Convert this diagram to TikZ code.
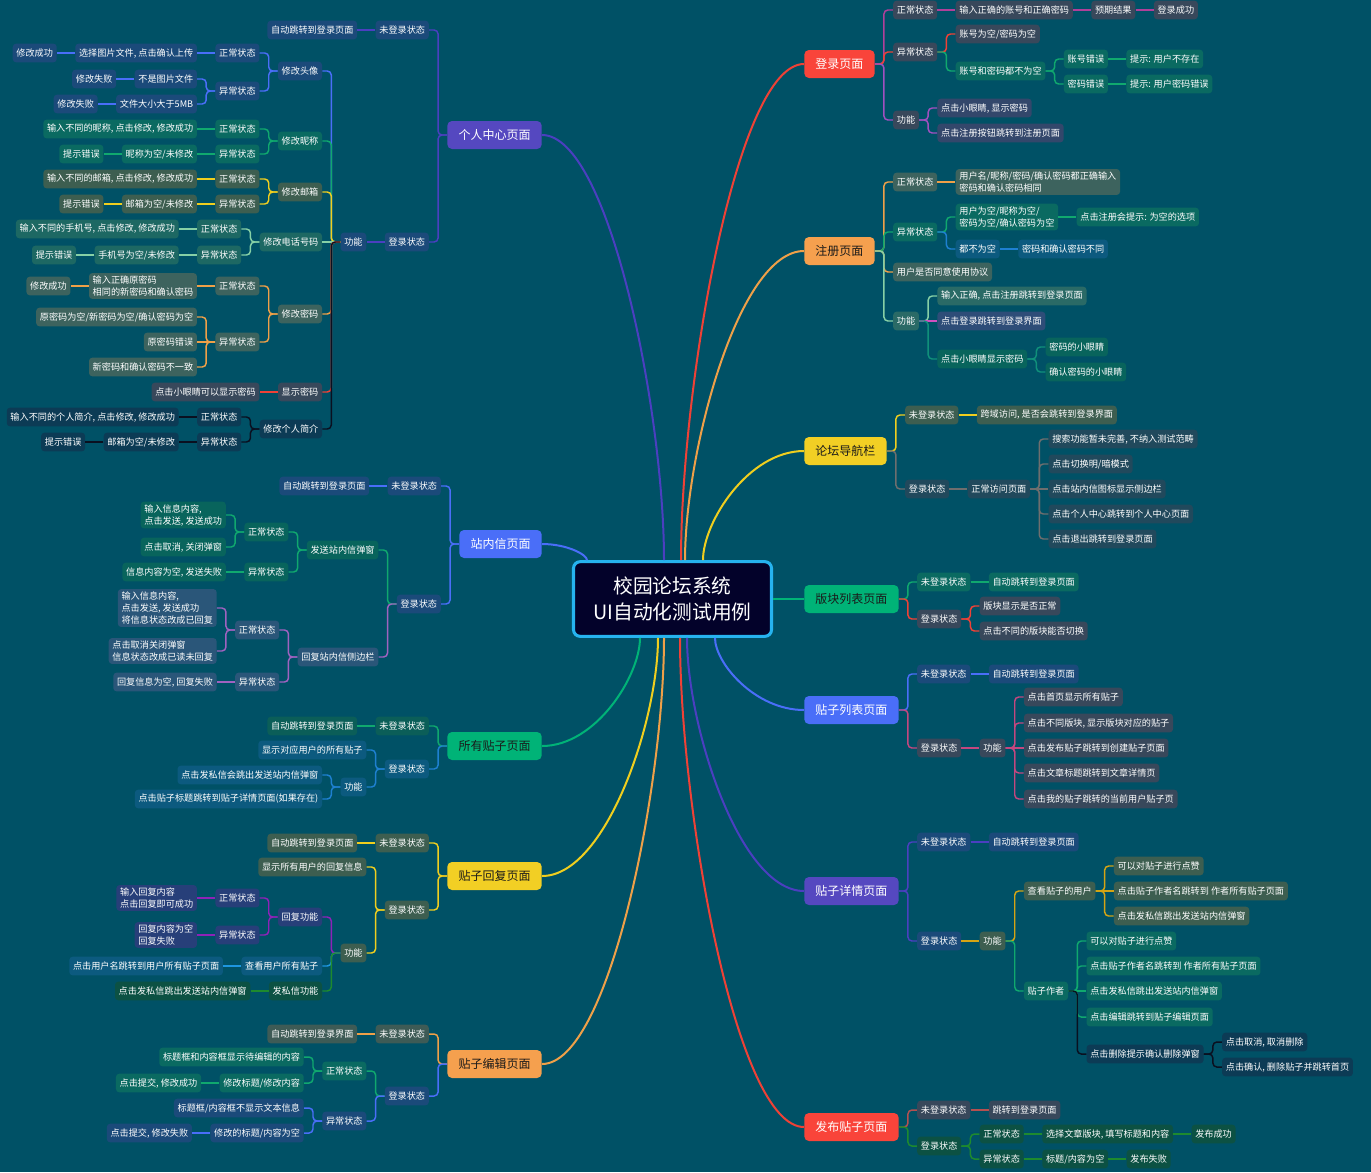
\documentclass[tikz,border=0pt]{standalone}
\usepackage{fontspec}
\setmainfont{Noto Sans CJK SC}
\usetikzlibrary{calc}
% colours
\definecolor{cBg}{HTML}{005166}
\definecolor{cCtr}{HTML}{03022A}
\definecolor{cCtrB}{HTML}{26B3EF}
\definecolor{mRed}{HTML}{F9443A}
\definecolor{mOrange}{HTML}{F5A04E}
\definecolor{mYellow}{HTML}{F2CF24}
\definecolor{mGreen}{HTML}{00B377}
\definecolor{mBlue}{HTML}{4A6EF8}
\definecolor{mPurple}{HTML}{5548C0}
\definecolor{mDark}{HTML}{1A1A1A}
\definecolor{cBlue}{HTML}{1B4A7A}
\definecolor{cTeal}{HTML}{0A6A61}
\definecolor{cOlive}{HTML}{3D5E50}
\definecolor{cSlate}{HTML}{38485B}
\definecolor{cGreyG}{HTML}{3D635E}
\definecolor{cNavy}{HTML}{0C3B55}
\definecolor{cPhone}{HTML}{1D6863}
\definecolor{cDSlate}{HTML}{21495C}
\definecolor{cCBlue}{HTML}{0C5A7F}
\definecolor{cRBlue}{HTML}{2A5679}
\definecolor{cRPurple}{HTML}{273F79}
\definecolor{cDGreen}{HTML}{0C5143}
\definecolor{cSBlue}{HTML}{33476B}
\definecolor{cSBlue2}{HTML}{2E4D78}
\definecolor{cTealD}{HTML}{08645C}
\definecolor{cTealM}{HTML}{2A6A66}
\definecolor{cOliveG}{HTML}{3E5B56}
\definecolor{cTealD2}{HTML}{0B5E58}
\definecolor{lPurple}{HTML}{4B3FC0}
\definecolor{lRed}{HTML}{EF4136}
\definecolor{lOrange}{HTML}{EFA048}
\definecolor{lYellow}{HTML}{F0CE1E}
\definecolor{lGreen}{HTML}{10A86E}
\definecolor{lBlue}{HTML}{4A6EF8}
\definecolor{lMagenta}{HTML}{B0409A}
\definecolor{lViolet}{HTML}{A050C0}
\definecolor{lLGreen}{HTML}{86D0A6}
\definecolor{lBlack}{HTML}{0A1020}
\definecolor{lGrey}{HTML}{6E6E6E}
\definecolor{lPink}{HTML}{C4477F}
\definecolor{lSky}{HTML}{1E96E0}
\definecolor{lPurp}{HTML}{8E22B8}
\definecolor{lLPurp}{HTML}{A062C0}
\definecolor{lDGreen}{HTML}{1E8A2E}
\definecolor{lGold}{HTML}{D4A414}
\definecolor{lDRed}{HTML}{B55050}
\definecolor{lMBlue}{HTML}{1E80D0}
\definecolor{lPinkM}{HTML}{D050C0}
\definecolor{lTealG}{HTML}{10907A}
\tikzset{
  nb/.style={rounded corners=2.5pt, inner xsep=2.8pt, inner ysep=2pt, minimum height=14pt,
    text=white, font=\fontsize{6.85}{9}\selectfont, align=left},
  kBlue/.style={nb,fill=cBlue}, kTeal/.style={nb,fill=cTeal}, kOlive/.style={nb,fill=cOlive},
  kSlate/.style={nb,fill=cSlate}, kGreyG/.style={nb,fill=cGreyG}, kNavy/.style={nb,fill=cNavy},
  kPhone/.style={nb,fill=cPhone}, kDSlate/.style={nb,fill=cDSlate}, kCBlue/.style={nb,fill=cCBlue},
  kRBlue/.style={nb,fill=cRBlue}, kRPurple/.style={nb,fill=cRPurple}, kDGreen/.style={nb,fill=cDGreen},
  kSBlue/.style={nb,fill=cSBlue}, kSBlue2/.style={nb,fill=cSBlue2}, kTealD/.style={nb,fill=cTealD},
  kTealM/.style={nb,fill=cTealM}, kOliveG/.style={nb,fill=cOliveG}, kTealD2/.style={nb,fill=cTealD2},
  mainbox/.style={rounded corners=3.5pt, inner xsep=8.4pt, inner ysep=2pt, minimum height=21pt,
    font=\fontsize{9}{11}\selectfont},
  mainR/.style={mainbox, anchor=west}, mainL/.style={mainbox, anchor=east},
  cn/.style={line width=1.1pt, rounded corners=3pt},
  mline/.style={line width=1.5pt},
  ctr/.style={draw=cCtrB, fill=cCtr, line width=2.3pt, rounded corners=5pt, text=white,
    minimum width=148.5pt, minimum height=56pt, align=center,
    font=\fontsize{14.8}{19.5}\selectfont}
}
% right child at new y / same y
\newcommand\RN[6]{\node[#1,anchor=west,xshift=13.5pt] (#3) at (#4.east |- 0,#5) {#6};
  \draw[cn,#2] (#4.east) -- ++(6.75pt,0) |- (#3.west);}
\newcommand\RS[5]{\node[#1,anchor=west,xshift=13.5pt] (#3) at (#4.east) {#5};
  \draw[cn,#2] (#4.east) -- (#3.west);}
\newcommand\LN[6]{\node[#1,anchor=east,xshift=-13.5pt] (#3) at (#4.west |- 0,#5) {#6};
  \draw[cn,#2] (#4.west) -- ++(-6.75pt,0) |- (#3.east);}
\newcommand\LS[5]{\node[#1,anchor=east,xshift=-13.5pt] (#3) at (#4.west) {#5};
  \draw[cn,#2] (#4.west) -- (#3.east);}
\newcommand\MC[3]{\draw[mline,#1] (#2) .. controls ($(#2)!0.35!(#2|-#3)$) and ($(#3)!0.55!(#2|-#3)$) .. (#3);}
\begin{document}
\begin{tikzpicture}[x=0.75pt,y=-0.75pt]
\fill[cBg] (0,0) rectangle (1371,1172);
\useasboundingbox (0,0) rectangle (1371,1172);

% centre
\node[ctr] (C) at (672.5,599) {校园论坛系统\\UI自动化测试用例};

% main nodes
\node[mainR, fill=mRed, text=white] (L) at (804,64) {登录页面};
\node[mainR, fill=mOrange, text=mDark] (R) at (804,251) {注册页面};
\node[mainR, fill=mYellow, text=mDark] (F) at (804,451) {论坛导航栏};
\node[mainR, fill=mGreen, text=mDark] (B) at (804,599) {版块列表页面};
\node[mainR, fill=mBlue, text=white] (P) at (804,710) {贴子列表页面};
\node[mainR, fill=mPurple, text=white] (D) at (804,891) {贴子详情页面};
\node[mainR, fill=mRed, text=white] (S) at (804,1127) {发布贴子页面};
\node[mainL, fill=mPurple, text=white] (G) at (542,135) {个人中心页面};
\node[mainL, fill=mBlue, text=white] (Z) at (542,544) {站内信页面};
\node[mainL, fill=mGreen, text=mDark] (A) at (542,746) {所有贴子页面};
\node[mainL, fill=mYellow, text=mDark] (Y) at (542,876) {贴子回复页面};
\node[mainL, fill=mOrange, text=mDark] (W) at (542,1064) {贴子编辑页面};

% main connectors
\coordinate (sG) at (C.north -| 664,0);
\coordinate (sL) at (C.north -| 681,0);
\coordinate (sR) at (C.north -| 685,0);
\coordinate (sF) at (C.north -| 703,0);
\coordinate (sZ) at (C.north -| 587,0);
\coordinate (sA) at (C.south -| 640,0);
\coordinate (sY) at (C.south -| 658,0);
\coordinate (sW) at (C.south -| 664,0);
\coordinate (sS) at (C.south -| 680,0);
\coordinate (sD) at (C.south -| 687,0);
\coordinate (sP) at (C.south -| 715,0);
\MC{lPurple}{sG}{G.east}
\MC{lRed}{sL}{L.west}
\MC{lOrange}{sR}{R.west}
\MC{lYellow}{sF}{F.west}
\MC{lBlue}{sZ}{Z.east}
\MC{mGreen}{sA}{A.east}
\MC{lYellow}{sY}{Y.east}
\MC{lOrange}{sW}{W.east}
\MC{lRed}{sS}{S.west}
\MC{lPurple}{sD}{D.west}
\MC{lBlue}{sP}{P.west}
\draw[mline,mGreen] (C.east) -- (B.west);

% ---- 登录页面
\RN{kSlate}{lMagenta}{L1}{L}{10}{正常状态}
\RS{kSlate}{lMagenta}{L1a}{L1}{输入正确的账号和正确密码}
\RS{kSlate}{lMagenta}{L1b}{L1a}{预期结果}
\RS{kSlate}{lMagenta}{L1c}{L1b}{登录成功}
\RN{kSlate}{lRed}{L2}{L}{52}{异常状态}
\RN{kSlate}{lRed}{L2a}{L2}{34}{账号为空/密码为空}
\RN{kTeal}{lGreen}{L2b}{L2}{71}{账号和密码都不为空}
\RN{kTeal}{lGreen}{L2c}{L2b}{59}{账号错误}
\RS{kTeal}{lGreen}{L2d}{L2c}{提示: 用户不存在}
\RN{kTeal}{lGreen}{L2e}{L2b}{84}{密码错误}
\RS{kTeal}{lGreen}{L2f}{L2e}{提示: 用户密码错误}
\RN{kSlate}{lViolet}{L3}{L}{120}{功能}
\RN{kSBlue}{lViolet}{L3a}{L3}{108}{点击小眼睛, 显示密码}
\RN{kSBlue}{lViolet}{L3b}{L3}{133}{点击注册按钮跳转到注册页面}

% ---- 注册页面
\RN{kGreyG}{lOrange}{R1}{R}{182}{正常状态}
\RS{kGreyG}{lOrange}{R1a}{R1}{用户名/昵称/密码/确认密码都正确输入\\密码和确认密码相同}
\RN{kTeal}{lGreen}{R2}{R}{232}{异常状态}
\RN{kTeal}{lGreen}{R2a}{R2}{217}{用户为空/昵称为空/\\密码为空/确认密码为空}
\RS{kTeal}{lGreen}{R2b}{R2a}{点击注册会提示: 为空的选项}
\RN{kCBlue}{lMBlue}{R2c}{R2}{249}{都不为空}
\RS{kCBlue}{lMBlue}{R2d}{R2c}{密码和确认密码不同}
\RN{kGreyG}{lOrange}{R3}{R}{272}{用户是否同意使用协议}
\RN{kTealM}{lLGreen}{R4}{R}{321}{功能}
\RN{kTealM}{lLGreen}{R4a}{R4}{296}{输入正确, 点击注册跳转到登录页面}
\RS{kSBlue2}{lPinkM}{R4b}{R4}{点击登录跳转到登录界面}
\RN{kTealD}{lTealG}{R4c}{R4}{359}{点击小眼睛显示密码}
\RN{kTealD}{lTealG}{R4d}{R4c}{347}{密码的小眼睛}
\RN{kTealD}{lTealG}{R4e}{R4c}{372}{确认密码的小眼睛}

% ---- 论坛导航栏
\RN{kOlive}{lYellow}{F1}{F}{415}{未登录状态}
\RS{kOlive}{lYellow}{F1a}{F1}{跨域访问, 是否会跳转到登录界面}
\RN{kDSlate}{lGrey}{F2}{F}{489}{登录状态}
\RS{kDSlate}{lGrey}{F2a}{F2}{正常访问页面}
\RN{kDSlate}{lGrey}{F3}{F2a}{439}{搜索功能暂未完善, 不纳入测试范畴}
\RN{kDSlate}{lGrey}{F4}{F2a}{464}{点击切换明/暗模式}
\RS{kDSlate}{lGrey}{F5}{F2a}{点击站内信图标显示侧边栏}
\RN{kDSlate}{lGrey}{F6}{F2a}{514}{点击个人中心跳转到个人中心页面}
\RN{kDSlate}{lGrey}{F7}{F2a}{539}{点击退出跳转到登录页面}

% ---- 版块列表页面
\RN{kTeal}{lGreen}{B1}{B}{582}{未登录状态}
\RS{kTeal}{lGreen}{B1a}{B1}{自动跳转到登录页面}
\RN{kSlate}{lRed}{B2}{B}{619}{登录状态}
\RN{kSlate}{lRed}{B2a}{B2}{606}{版块显示是否正常}
\RN{kSlate}{lRed}{B2b}{B2}{631}{点击不同的版块能否切换}

% ---- 贴子列表页面
\RN{kBlue}{lBlue}{P1}{P}{674}{未登录状态}
\RS{kBlue}{lBlue}{P1a}{P1}{自动跳转到登录页面}
\RN{kSlate}{lPink}{P2}{P}{748}{登录状态}
\RS{kSlate}{lPink}{P2a}{P2}{功能}
\RN{kSlate}{lPink}{P3}{P2a}{697}{点击首页显示所有贴子}
\RN{kSlate}{lPink}{P4}{P2a}{723}{点击不同版块, 显示版块对应的贴子}
\RS{kSlate}{lPink}{P5}{P2a}{点击发布贴子跳转到创建贴子页面}
\RN{kSlate}{lPink}{P6}{P2a}{773}{点击文章标题跳转到文章详情页}
\RN{kSlate}{lPink}{P7}{P2a}{799}{点击我的贴子跳转的当前用户贴子页}

% ---- 贴子详情页面
\RN{kBlue}{lPurple}{D1}{D}{842}{未登录状态}
\RS{kBlue}{lPurple}{D1a}{D1}{自动跳转到登录页面}
\RN{kBlue}{lPurple}{D2}{D}{941}{登录状态}
\RS{kOlive}{lGold}{D2a}{D2}{功能}
\RN{kOlive}{lGold}{D3}{D2a}{891}{查看贴子的用户}
\RN{kOlive}{lGold}{D3a}{D3}{866}{可以对贴子进行点赞}
\RS{kOlive}{lGold}{D3b}{D3}{点击贴子作者名跳转到 作者所有贴子页面}
\RN{kOlive}{lGold}{D3c}{D3}{916}{点击发私信跳出发送站内信弹窗}
\RN{kTeal}{lGreen}{D4}{D2a}{991}{贴子作者}
\RN{kTeal}{lGreen}{D4a}{D4}{941}{可以对贴子进行点赞}
\RN{kTeal}{lGreen}{D4b}{D4}{966}{点击贴子作者名跳转到 作者所有贴子页面}
\RS{kTeal}{lGreen}{D4c}{D4}{点击发私信跳出发送站内信弹窗}
\RN{kTeal}{lGreen}{D4d}{D4}{1017}{点击编辑跳转到贴子编辑页面}
\RN{kNavy}{lBlack}{D4e}{D4}{1054}{点击删除提示确认删除弹窗}
\RN{kNavy}{lBlack}{D4f}{D4e}{1042}{点击取消, 取消删除}
\RN{kNavy}{lBlack}{D4g}{D4e}{1067}{点击确认, 删除贴子并跳转首页}

% ---- 发布贴子页面
\RN{kSlate}{lDRed}{S1}{S}{1110}{未登录状态}
\RS{kSlate}{lDRed}{S1a}{S1}{跳转到登录页面}
\RN{kDGreen}{lDGreen}{S2}{S}{1146}{登录状态}
\RN{kDGreen}{lDGreen}{S2a}{S2}{1134}{正常状态}
\RS{kDGreen}{lDGreen}{S2b}{S2a}{选择文章版块, 填写标题和内容}
\RS{kDGreen}{lDGreen}{S2c}{S2b}{发布成功}
\RN{kDGreen}{lDGreen}{S2d}{S2}{1159}{异常状态}
\RS{kDGreen}{lDGreen}{S2e}{S2d}{标题/内容为空}
\RS{kDGreen}{lDGreen}{S2f}{S2e}{发布失败}

% ---- 个人中心页面
\LN{kBlue}{lPurple}{G1}{G}{30}{未登录状态}
\LS{kBlue}{lPurple}{G1a}{G1}{自动跳转到登录页面}
\LN{kBlue}{lPurple}{G2}{G}{242}{登录状态}
\LS{kBlue}{lPurple}{G3}{G2}{功能}
\LN{kBlue}{lBlue}{H}{G3}{71}{修改头像}
\LN{kBlue}{lBlue}{H1}{H}{53}{正常状态}
\LS{kBlue}{lBlue}{H1a}{H1}{选择图片文件, 点击确认上传}
\LS{kBlue}{lBlue}{H1b}{H1a}{修改成功}
\LN{kBlue}{lBlue}{H2}{H}{91}{异常状态}
\LN{kBlue}{lBlue}{H2a}{H2}{79}{不是图片文件}
\LS{kBlue}{lBlue}{H2b}{H2a}{修改失败}
\LN{kBlue}{lBlue}{H2c}{H2}{104}{文件大小大于5MB}
\LS{kBlue}{lBlue}{H2d}{H2c}{修改失败}
\LN{kTeal}{lGreen}{N}{G3}{141}{修改昵称}
\LN{kTeal}{lGreen}{N1}{N}{129}{正常状态}
\LS{kTeal}{lGreen}{N1a}{N1}{输入不同的昵称, 点击修改, 修改成功}
\LN{kTeal}{lGreen}{N2}{N}{154}{异常状态}
\LS{kTeal}{lGreen}{N2a}{N2}{昵称为空/未修改}
\LS{kTeal}{lGreen}{N2b}{N2a}{提示错误}
\LN{kOlive}{lYellow}{E}{G3}{192}{修改邮箱}
\LN{kOlive}{lYellow}{E1}{E}{179}{正常状态}
\LS{kOlive}{lYellow}{E1a}{E1}{输入不同的邮箱, 点击修改, 修改成功}
\LN{kOlive}{lYellow}{E2}{E}{204}{异常状态}
\LS{kOlive}{lYellow}{E2a}{E2}{邮箱为空/未修改}
\LS{kOlive}{lYellow}{E2b}{E2a}{提示错误}
\LS{kPhone}{lLGreen}{T}{G3}{修改电话号码}
\LN{kPhone}{lLGreen}{T1}{T}{229}{正常状态}
\LS{kPhone}{lLGreen}{T1a}{T1}{输入不同的手机号, 点击修改, 修改成功}
\LN{kPhone}{lLGreen}{T2}{T}{255}{异常状态}
\LS{kPhone}{lLGreen}{T2a}{T2}{手机号为空/未修改}
\LS{kPhone}{lLGreen}{T2b}{T2a}{提示错误}
\LN{kGreyG}{lOrange}{M}{G3}{314}{修改密码}
\LN{kGreyG}{lOrange}{M1}{M}{286}{正常状态}
\LS{kGreyG}{lOrange}{M1a}{M1}{输入正确原密码\\相同的新密码和确认密码}
\LS{kGreyG}{lOrange}{M1b}{M1a}{修改成功}
\LN{kGreyG}{lOrange}{M2}{M}{342}{异常状态}
\LN{kGreyG}{lOrange}{M2a}{M2}{317}{原密码为空/新密码为空/确认密码为空}
\LS{kGreyG}{lOrange}{M2b}{M2}{原密码错误}
\LN{kGreyG}{lOrange}{M2c}{M2}{367}{新密码和确认密码不一致}
\LN{kSlate}{lRed}{X}{G3}{392}{显示密码}
\LS{kSlate}{lRed}{X1}{X}{点击小眼睛可以显示密码}
\LN{kNavy}{lBlack}{J}{G3}{429}{修改个人简介}
\LN{kNavy}{lBlack}{J1}{J}{417}{正常状态}
\LS{kNavy}{lBlack}{J1a}{J1}{输入不同的个人简介, 点击修改, 修改成功}
\LN{kNavy}{lBlack}{J2}{J}{442}{异常状态}
\LS{kNavy}{lBlack}{J2a}{J2}{邮箱为空/未修改}
\LS{kNavy}{lBlack}{J2b}{J2a}{提示错误}

% ---- 站内信页面
\LN{kBlue}{lBlue}{Z1}{Z}{486}{未登录状态}
\LS{kBlue}{lBlue}{Z1a}{Z1}{自动跳转到登录页面}
\LN{kBlue}{lBlue}{Z2}{Z}{604}{登录状态}
\LN{kTealD}{lGreen}{Z3}{Z2}{550}{发送站内信弹窗}
\LN{kTealD}{lGreen}{Z3a}{Z3}{532}{正常状态}
\LN{kTealD}{lGreen}{Z3b}{Z3a}{515}{输入信息内容,\\点击发送, 发送成功}
\LN{kTealD}{lGreen}{Z3c}{Z3a}{547}{点击取消, 关闭弹窗}
\LN{kTealD}{lGreen}{Z3d}{Z3}{572}{异常状态}
\LS{kTealD}{lGreen}{Z3e}{Z3d}{信息内容为空, 发送失败}
\LN{kRBlue}{lLPurp}{Z4}{Z2}{657}{回复站内信侧边栏}
\LN{kRBlue}{lLPurp}{Z4a}{Z4}{630}{正常状态}
\LN{kRBlue}{lLPurp}{Z4b}{Z4a}{608}{输入信息内容,\\点击发送, 发送成功\\将信息状态改成已回复}
\LN{kRBlue}{lLPurp}{Z4c}{Z4a}{651}{点击取消关闭弹窗\\信息状态改成已读未回复}
\LN{kRBlue}{lLPurp}{Z4d}{Z4}{682}{异常状态}
\LS{kRBlue}{lLPurp}{Z4e}{Z4d}{回复信息为空, 回复失败}

% ---- 所有贴子页面
\LN{kTealD2}{lGreen}{A1}{A}{726}{未登录状态}
\LS{kTealD2}{lGreen}{A1a}{A1}{自动跳转到登录页面}
\LN{kCBlue}{lMBlue}{A2}{A}{769}{登录状态}
\LN{kCBlue}{lMBlue}{A2a}{A2}{750}{显示对应用户的所有贴子}
\LN{kCBlue}{lMBlue}{A2b}{A2}{787}{功能}
\LN{kCBlue}{lMBlue}{A2c}{A2b}{775}{点击发私信会跳出发送站内信弹窗}
\LN{kCBlue}{lMBlue}{A2d}{A2b}{799}{点击贴子标题跳转到贴子详情页面(如果存在)}

% ---- 贴子回复页面
\LN{kOlive}{lYellow}{Y1}{Y}{843}{未登录状态}
\LS{kOlive}{lYellow}{Y1a}{Y1}{自动跳转到登录页面}
\LN{kOlive}{lYellow}{Y2}{Y}{910}{登录状态}
\LN{kOlive}{lYellow}{Y2a}{Y2}{867}{显示所有用户的回复信息}
\LN{kOlive}{lYellow}{Y3}{Y2}{953}{功能}
\LN{kRPurple}{lPurp}{Y4}{Y3}{917}{回复功能}
\LN{kRPurple}{lPurp}{Y4a}{Y4}{898}{正常状态}
\LS{kRPurple}{lPurp}{Y4b}{Y4a}{输入回复内容\\点击回复即可成功}
\LN{kRPurple}{lPurp}{Y4c}{Y4}{935}{异常状态}
\LS{kRPurple}{lPurp}{Y4d}{Y4c}{回复内容为空\\回复失败}
\LN{kCBlue}{lSky}{Y5}{Y3}{966}{查看用户所有贴子}
\LS{kCBlue}{lSky}{Y5a}{Y5}{点击用户名跳转到用户所有贴子页面}
\LN{kDGreen}{lDGreen}{Y6}{Y3}{991}{发私信功能}
\LS{kDGreen}{lDGreen}{Y6a}{Y6}{点击发私信跳出发送站内信弹窗}

% ---- 贴子编辑页面
\LN{kOliveG}{lOrange}{W1}{W}{1034}{未登录状态}
\LS{kOliveG}{lOrange}{W1a}{W1}{自动跳转到登录界面}
\LN{kBlue}{lBlue}{W2}{W}{1096}{登录状态}
\LN{kTeal}{lGreen}{W3}{W2}{1071}{正常状态}
\LN{kTeal}{lGreen}{W3a}{W3}{1057}{标题框和内容框显示待编辑的内容}
\LN{kTeal}{lGreen}{W3b}{W3}{1083}{修改标题/修改内容}
\LS{kTeal}{lGreen}{W3c}{W3b}{点击提交, 修改成功}
\LN{kBlue}{lBlue}{W4}{W2}{1121}{异常状态}
\LN{kBlue}{lBlue}{W4a}{W4}{1108}{标题框/内容框不显示文本信息}
\LN{kBlue}{lBlue}{W4b}{W4}{1133}{修改的标题/内容为空}
\LS{kBlue}{lBlue}{W4c}{W4b}{点击提交, 修改失败}
\end{tikzpicture}
\end{document}
